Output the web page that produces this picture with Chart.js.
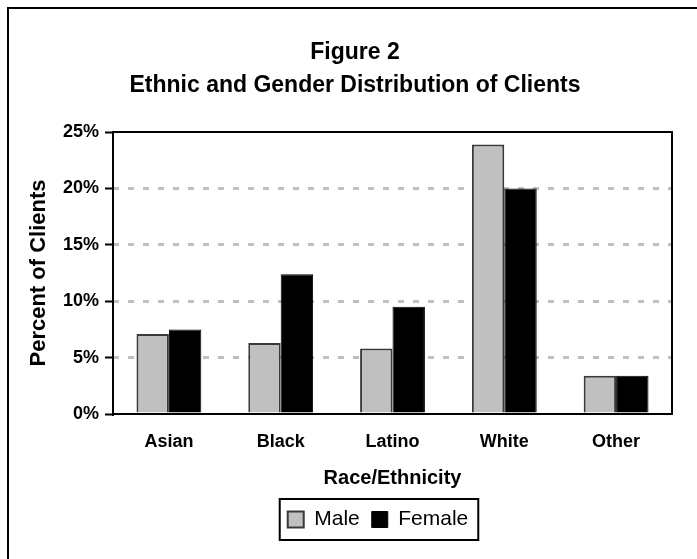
<!DOCTYPE html>
<html>
<head>
<meta charset="utf-8">
<script src="https://cdn.jsdelivr.net/npm/chart.js@4.4.1/dist/chart.umd.min.js"></script>
<style>
  html, body { margin: 0; padding: 0; background: #fff; }
  #wrap { width: 697px; height: 559px; position: relative; }
</style>
</head>
<body>
<div id="wrap"><canvas id="ethnicChart"></canvas></div>
<script>
// values (percent of clients)
const categories = ['Asian', 'Black', 'Latino', 'White', 'Other'];
const maleValues = [7.1, 6.3, 5.8, 23.9, 3.4];
const femaleValues = [7.5, 12.4, 9.5, 20.0, 3.4];
const yTicks = [0, 5, 10, 15, 20, 25];

const FONT = "'Liberation Sans', Arial, sans-serif";

// white page + outer frame (only left/top edges visible in the picture)
const framePlugin = {
    id: 'frame',
    beforeDraw(chart) {
        const ctx = chart.ctx;
        ctx.save();
        ctx.fillStyle = '#fff';
        ctx.fillRect(0, 0, chart.width, chart.height);
        ctx.strokeStyle = '#000';
        ctx.lineWidth = 2;
        ctx.beginPath();
        ctx.moveTo(8, chart.height);
        ctx.lineTo(8, 8);
        ctx.lineTo(chart.width, 8);
        ctx.stroke();
        ctx.restore();
    },
    afterLayout(chart) {
        // title and legend are not centred on the same point in the original
        chart.titleBlock.left += 9;
        chart.titleBlock.right += 9;
        chart.legend.left += 32;
        chart.legend.right += 32;
    },
    afterDatasetsDraw(chart) {
        // box round the plot area
        const a = chart.chartArea;
        const ctx = chart.ctx;
        ctx.save();
        ctx.strokeStyle = '#000';
        ctx.lineWidth = 2;
        ctx.strokeRect(a.left, a.top, a.right - a.left, a.bottom - a.top);
        ctx.restore();
    },
    afterDraw(chart) {
        // box round the legend
        const boxes = chart.legend.legendHitBoxes;
        if (!boxes || !boxes.length) return;
        const first = boxes[0];
        const last = boxes[boxes.length - 1];
        const ctx = chart.ctx;
        ctx.save();
        ctx.strokeStyle = '#000';
        ctx.lineWidth = 2;
        const x1 = first.left - 8;
        const x2 = last.left + last.width + 10;
        const y1 = first.top - 10;
        const y2 = first.top + first.height + 10;
        ctx.strokeRect(x1, y1, x2 - x1, y2 - y1);
        ctx.restore();
    }
};

const ctx = document.getElementById('ethnicChart').getContext('2d');

new Chart(ctx, {
    type: 'bar',
    data: {
        labels: categories,
        datasets: [{
            label: 'Male',
            data: maleValues,
            backgroundColor: '#c0c0c0',
            borderColor: '#3a3a3a',
            borderWidth: 2,
            borderSkipped: 'start',
            categoryPercentage: 0.58,
            barPercentage: 1.0
        }, {
            label: 'Female',
            data: femaleValues,
            backgroundColor: '#000000',
            borderColor: '#000000',
            borderWidth: 1,
            borderSkipped: 'start',
            categoryPercentage: 0.58,
            barPercentage: 1.0
        }]
    },
    options: {
        responsive: true,
        maintainAspectRatio: false,
        animation: false,
        devicePixelRatio: 1,
        layout: {
            padding: { left: 20, right: 25, top: 8, bottom: 19 }
        },
        scales: {
            x: {
                grid: { display: false, drawTicks: false },
                border: { display: true, color: '#000', width: 2 },
                ticks: {
                    color: '#000',
                    padding: 17,
                    font: { family: FONT, size: 18, weight: 'bold', lineHeight: 1.2 }
                },
                title: {
                    display: true,
                    text: 'Race/Ethnicity',
                    color: '#000',
                    font: { family: FONT, size: 20, weight: 'bold', lineHeight: 1.2 },
                    padding: { top: 0, bottom: 7 }
                },
                afterFit: function(scale) { scale.height = 83; }
            },
            y: {
                min: 0,
                max: 25,
                afterBuildTicks: function(scale) {
                    scale.ticks = yTicks.map(function(v) { return { value: v }; });
                },
                grid: {
                    color: function(c) {
                        const v = c.tick ? c.tick.value : 0;
                        return (v === 0 || v === 25) ? 'rgba(0,0,0,0)' : '#c0c0c0';
                    },
                    lineWidth: 3,
                    drawTicks: true,
                    tickLength: 8,
                    tickColor: '#000',
                    tickWidth: 2
                },
                border: { display: true, color: '#000', width: 2, dash: [6, 9], dashOffset: 1 },
                ticks: {
                    color: '#000',
                    padding: 6,
                    font: { family: FONT, size: 18, weight: 'bold', lineHeight: 1.2 },
                    callback: function(v) { return v + '%'; }
                },
                title: {
                    display: true,
                    text: 'Percent of Clients',
                    color: '#000',
                    font: { family: FONT, size: 22, weight: 'bold', lineHeight: 1.2 },
                    padding: { top: 5.5, bottom: 0 }
                },
                afterFit: function(scale) { scale.width = 93; }
            }
        },
        plugins: {
            title: {
                display: true,
                text: ['Figure 2', 'Ethnic and Gender Distribution of Clients'],
                color: '#000',
                font: { family: FONT, size: 23, weight: 'bold', lineHeight: 33 / 23 },
                padding: { top: 28.5, bottom: 29.5 }
            },
            legend: {
                position: 'bottom',
                labels: {
                    color: '#000',
                    boxWidth: 16,
                    boxHeight: 16,
                    padding: 12,
                    font: { family: FONT, size: 21 }
                }
            },
            tooltip: { enabled: false }
        }
    },
    plugins: [framePlugin]
});
</script>
</body>
</html>
